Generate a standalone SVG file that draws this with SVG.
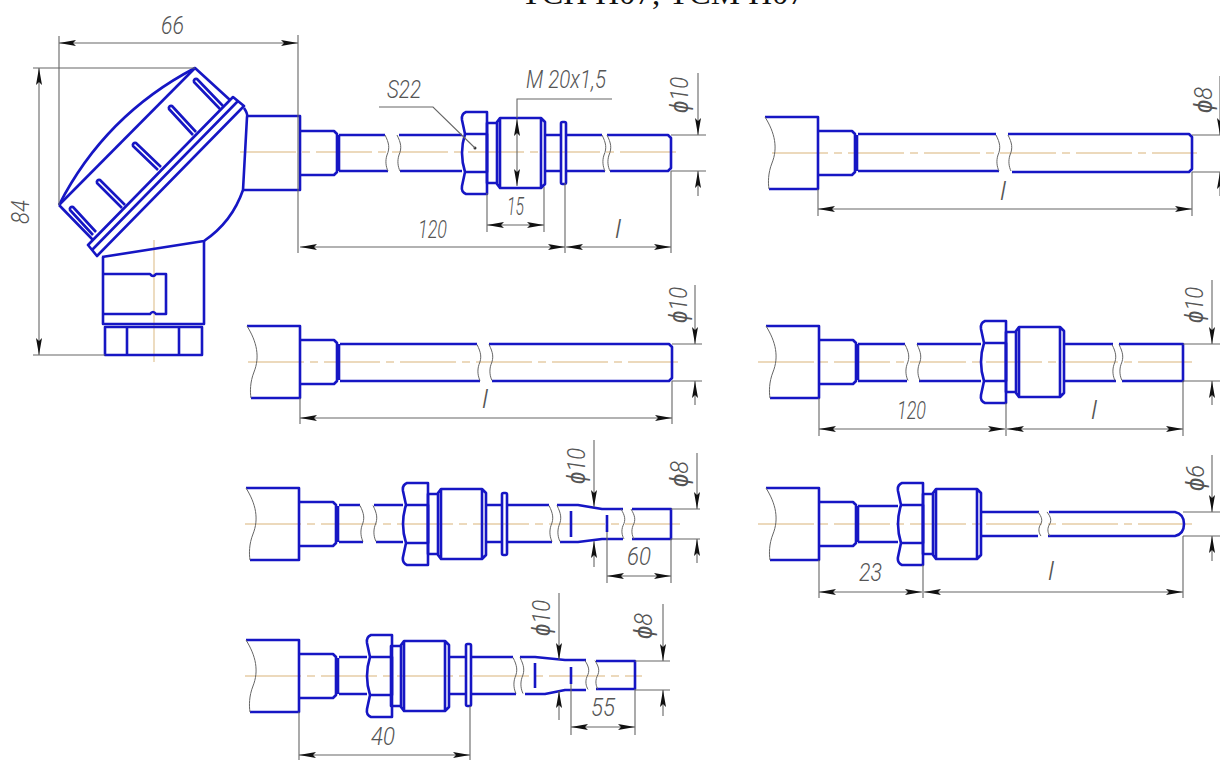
<svg xmlns="http://www.w3.org/2000/svg" width="1220" height="760" viewBox="0 0 1220 760">
<style>
.b{fill:none;stroke:#1616c4;stroke-width:2.6;stroke-linejoin:round}
.t{fill:none;stroke:#666;stroke-width:1;vector-effect:non-scaling-stroke}
.c{fill:none;stroke:#e6cda6;stroke-width:1.4;stroke-dasharray:56 6 8 6}
.d{fill:none;stroke:#666;stroke-width:1.1}
.a{marker-start:url(#ar);marker-end:url(#ar)}
.e{marker-end:url(#ar)}
.l{font-family:Roboto,"Liberation Sans",sans-serif;font-style:italic;font-weight:300;font-size:26px;fill:#555}
.title{font-family:"Liberation Serif",serif;font-size:32px;fill:#111}
</style>
<defs>
<marker id="ar" markerUnits="userSpaceOnUse" markerWidth="18" markerHeight="8" refX="17" refY="4" orient="auto-start-reverse"><path d="M17,4 L0,1 L3,4 L0,7 Z" fill="#111"/></marker>
<path id="neck" class="b" d="M0,-22 H34 L37,-19 V19 L34,22 H0 M39,-18 V18"/>
<g id="block">
<path class="b" d="M-53,-36 H0 V36 H-49"/>
<path class="t" d="M-53,-36 C-43,-20 -40,-5 -46,10 C-50,20 -50,30 -49,36"/>
<use href="#neck"/>
</g>
<g id="hex">
<path class="b" d="M4,-41 H25 V41 H4 Q-1,39 0,33 L3,19 Q-3,0 3,-19 L0,-33 Q-1,-39 4,-41 Z"/>
<path class="b" d="M3,-19 L25,-19 L25,19 L3,19"/>
</g>
<g id="fit">
<path class="b" d="M0,-30 H10 V30 H0 Z M13,-35 H54 L58,-31 V31 L54,35 H13 L10,31 V-31 Z M13,-35 V35 M54,-35 V35"/>
</g>
<rect id="fl" class="b" x="0" y="-31" width="5" height="62" rx="1.5"/>
<path id="brk" class="t" d="M0,-18 C4,-10 5,-5 2,2 C0,8 1,14 3,18"/>
</defs>
<rect width="1220" height="760" fill="#fff"/>
<text class="title" x="521" y="4" textLength="284" lengthAdjust="spacingAndGlyphs">ТСП Н07, ТСМ Н07</text>

<g id="centerlines">
<path class="c" d="M240,152 H678 M248,362 H678 M772,153 H1197 M758,362 H1192 M758,524 H1192 M245,524 H680 M245,676 H642"/>
<path class="c" d="M154,240 V362" style="stroke-dasharray:none"/>
</g>

<g id="head">
<path class="b" d="M59,205 Q105,115 195,68 L230,100 M59,205 L93,240"/>
<path class="b" d="M59,205 L195,68"/>
<path class="b" d="M233,97 L244,106 L97,256 L88,245 Z M238,101 L92,250"/>
<path class="b" d="M223,106 L197,79 A2.3,2.3 0 0 0 194,82 L220,109"/>
<path class="b" d="M196,132 L172,106 A2.3,2.3 0 0 0 169,109 L193,135"/>
<path class="b" d="M161,167 L136,143 A2.3,2.3 0 0 0 133,146 L158,170"/>
<path class="b" d="M125,205 L100,180 A2.3,2.3 0 0 0 97,183 L122,208"/>
<path class="b" d="M96,232 L73,207 A2.3,2.3 0 0 0 70,210 L93,235"/>
<path class="b" d="M244,108 Q248,114 247,117 L243,190 Q232,222 204,241 L102,257"/>
<path class="b" d="M247,116 H300 V190 H243"/>
<path class="b" d="M103,257 V324 H204 V241"/>
<path class="b" d="M105,327 H202 V355 H105 Z M127,327 V355 M179,327 V355"/>
<path class="b" d="M104,274 H150 Q153,278 156,274 H166 V314 H156 Q153,310 150,314 H104"/>
</g>

<g id="probe-a">
<use href="#neck" transform="translate(300,153)"/>
<path class="b" d="M339,135 H385 M339,171 H388 M399,135 H462 M400,171 H462 M545,135 H561 M545,171 H561 M566,135 H602 M566,171 H605 M607,135 H668 L671,138 V168 L668,171 H610"/>
<use href="#brk" transform="translate(385,153)"/><use href="#brk" transform="translate(397,153)"/>
<use href="#brk" transform="translate(602,153)"/><use href="#brk" transform="translate(607,153)"/>
<use href="#hex" transform="translate(462,153)"/>
<use href="#fit" transform="translate(487,153)"/>
<use href="#fl" transform="translate(561,153)"/>
<circle cx="475" cy="148" r="1.5" fill="#333"/>
</g>

<g id="probe-b">
<use href="#block" transform="translate(300,362)"/>
<path class="b" d="M340,344 H477 M340,381 H480 M489,344 H669 L672,347 V378 L669,381 H492"/>
<use href="#brk" transform="translate(477,362.500)"/><use href="#brk" transform="translate(489,362.500)"/>
</g>

<g id="probe-c">
<use href="#block" transform="translate(818,153)"/>
<path class="b" d="M858,134 H996 M858,171 H999 M1008,134 H1189 L1192,137 V169 L1189,172 H1012"/>
<use href="#brk" transform="translate(996,153)"/><use href="#brk" transform="translate(1008,153)"/>
</g>

<g id="probe-d">
<use href="#block" transform="translate(819,362)"/>
<path class="b" d="M858,344 H905 M858,381 H907 M917,344 H981 M919,381 H981 M1063,344 H1113 M1063,381 H1116 M1119,344 H1183 V381 H1122"/>
<use href="#brk" transform="translate(905,362.500)"/><use href="#brk" transform="translate(917,362.500)"/>
<use href="#brk" transform="translate(1112,362.500)"/><use href="#brk" transform="translate(1119,362.500)"/>
<use href="#hex" transform="translate(981,362)"/>
<use href="#fit" transform="translate(1006,362)"/>
</g>

<g id="probe-e">
<use href="#block" transform="translate(819,524)"/>
<path class="b" d="M858,506 H898 M858,542 H898 M981,512 H1039 M981,536 H1038 M1049,512 H1175 Q1184,514 1184,524 Q1184,534 1175,536 H1048"/>
<use href="#brk" transform="translate(1038,524) scale(1,0.67)"/><use href="#brk" transform="translate(1047,524) scale(1,0.67)"/>
<use href="#hex" transform="translate(898,524)"/>
<use href="#fit" transform="translate(923,524)"/>
</g>

<g id="probe-f">
<use href="#block" transform="translate(299,524)"/>
<path class="b" d="M339,505 H360 M339,542 H363 M374,505 H403 M376,542 H403 M485,505 H502 M485,542 H502 M507,505 H549 M507,542 H552 M557,505 H578 L602,509 H623 M560,542 H578 L602,539 H623 M632,509 H671 V539 H632 M571,511 V537 M607,515 V532"/>
<use href="#brk" transform="translate(360,523.500)"/><use href="#brk" transform="translate(373,523.500)"/>
<use href="#brk" transform="translate(549,523.500)"/><use href="#brk" transform="translate(557,523.500)"/>
<use href="#brk" transform="translate(621,524) scale(1,0.83)"/><use href="#brk" transform="translate(631,524) scale(1,0.83)"/>
<use href="#hex" transform="translate(403,524)"/>
<use href="#fit" transform="translate(428,524)"/>
<use href="#fl" transform="translate(502,524)"/>
</g>

<g id="probe-g">
<use href="#block" transform="translate(299,676)"/>
<path class="b" d="M339,657 H367 M339,694 H367 M448,657 H466 M448,694 H466 M471,657 H513 M471,694 H516 M520,657 H535 L565,660 H586 M525,694 H545 L565,690 H586 M596,661 H635 V689 H596 M535,663 V688 M571,667 V684"/>
<use href="#brk" transform="translate(513,675.500)"/><use href="#brk" transform="translate(520,675.500)"/>
<use href="#brk" transform="translate(585,675) scale(1,0.8)"/><use href="#brk" transform="translate(595,675) scale(1,0.8)"/>
<use href="#hex" transform="translate(367,676)"/>
<use href="#fit" transform="translate(391,676)"/>
<use href="#fl" transform="translate(466,675)"/>
</g>

<g id="connectors">
<path class="d" d="M59,36 V205 M298,35 V253 M33,68 H195 M33,355 H105"/>
<path class="d a" d="M59,43 H298"/>
<path class="d a" d="M39,68 V355"/>
<path class="d" d="M565,183 V253 M671,171 V253 M487,193 V232 M544,187 V232 M671,135 H706 M671,171 H706"/>
<path class="d a" d="M300,247 H565"/>
<path class="d a" d="M566,247 H671"/>
<path class="d a" d="M487,225 H544"/>
<path class="d" d="M612,99 H517 V118"/>
<path class="d a" d="M517,119 V186"/>
<path class="d" d="M379,107 H433 L475,148"/>
<path class="d e" d="M698,73 V135"/>
<path class="d e" d="M698,196 V171"/>
<path class="d" d="M300,398 V424 M672,381 V424 M672,344 H702 M672,381 H702"/>
<path class="d a" d="M300,418 H672"/>
<path class="d e" d="M695,285 V344"/>
<path class="d e" d="M695,405 V381"/>
<path class="d" d="M818,189 V216 M1192,172 V216 M1192,135 H1220 M1192,172 H1220"/>
<path class="d a" d="M818,209 H1192"/>
<path class="d e" d="M1220,76 V135"/>
<path class="d e" d="M1220,196 V172"/>
<path class="d" d="M819,398 V436 M1006,403 V436 M1183,381 V436 M1183,344 H1220 M1183,381 H1220"/>
<path class="d a" d="M819,429 H1005"/>
<path class="d a" d="M1007,429 H1183"/>
<path class="d e" d="M1212,280 V344"/>
<path class="d e" d="M1212,405 V381"/>
<path class="d" d="M819,560 V598 M923,565 V598 M1183,536 V598 M1183,512 H1220 M1183,536 H1220"/>
<path class="d a" d="M819,592 H922"/>
<path class="d a" d="M924,592 H1183"/>
<path class="d e" d="M1212,455 V512"/>
<path class="d e" d="M1212,561 V536"/>
<path class="d" d="M607,532 V583 M671,539 V583 M671,509 H700 M671,539 H700"/>
<path class="d a" d="M607,576 H671"/>
<path class="d e" d="M594,440 V507"/>
<path class="d e" d="M594,567 V541"/>
<path class="d e" d="M697,453 V509"/>
<path class="d e" d="M697,563 V539"/>
<path class="d" d="M299,712 V760 M470,706 V760 M571,684 V735 M635,689 V735 M635,661 H670 M635,690 H670"/>
<path class="d a" d="M299,755 H470"/>
<path class="d a" d="M571,727 H635"/>
<path class="d e" d="M559,593 V660"/>
<path class="d e" d="M559,720 V691"/>
<path class="d e" d="M663,604 V661"/>
<path class="d e" d="M663,716 V690"/>
</g>

<g id="labels">
<text class="l" x="161" y="34" textLength="23" lengthAdjust="spacingAndGlyphs">66</text>
<text class="l" transform="translate(29,224) rotate(-90)" textLength="24" lengthAdjust="spacingAndGlyphs">84</text>
<text class="l" x="387" y="98" textLength="34" lengthAdjust="spacingAndGlyphs">S22</text>
<text class="l" x="526" y="88" textLength="80" lengthAdjust="spacingAndGlyphs">M 20x1,5</text>
<text class="l" x="507" y="215" textLength="17" lengthAdjust="spacingAndGlyphs">15</text>
<text class="l" x="418" y="238" textLength="29" lengthAdjust="spacingAndGlyphs">120</text>
<text class="l" x="615" y="238" textLength="6" lengthAdjust="spacingAndGlyphs">l</text>
<text class="l" transform="translate(688,113) rotate(-90)" textLength="36" lengthAdjust="spacingAndGlyphs">ϕ10</text>
<text class="l" x="482" y="408" textLength="6" lengthAdjust="spacingAndGlyphs">l</text>
<text class="l" transform="translate(687,323) rotate(-90)" textLength="36" lengthAdjust="spacingAndGlyphs">ϕ10</text>
<text class="l" x="1000" y="200" textLength="6" lengthAdjust="spacingAndGlyphs">l</text>
<text class="l" transform="translate(1212,113) rotate(-90)" textLength="26" lengthAdjust="spacingAndGlyphs">ϕ8</text>
<text class="l" x="897" y="419" textLength="29" lengthAdjust="spacingAndGlyphs">120</text>
<text class="l" x="1091" y="419" textLength="6" lengthAdjust="spacingAndGlyphs">l</text>
<text class="l" transform="translate(1203,323) rotate(-90)" textLength="36" lengthAdjust="spacingAndGlyphs">ϕ10</text>
<text class="l" x="859" y="581" textLength="23" lengthAdjust="spacingAndGlyphs">23</text>
<text class="l" x="1048" y="580" textLength="6" lengthAdjust="spacingAndGlyphs">l</text>
<text class="l" transform="translate(1204,491) rotate(-90)" textLength="26" lengthAdjust="spacingAndGlyphs">ϕ6</text>
<text class="l" transform="translate(585,484) rotate(-90)" textLength="36" lengthAdjust="spacingAndGlyphs">ϕ10</text>
<text class="l" transform="translate(688,487) rotate(-90)" textLength="26" lengthAdjust="spacingAndGlyphs">ϕ8</text>
<text class="l" x="627" y="565" textLength="24" lengthAdjust="spacingAndGlyphs">60</text>
<text class="l" transform="translate(550,636) rotate(-90)" textLength="36" lengthAdjust="spacingAndGlyphs">ϕ10</text>
<text class="l" transform="translate(652,639) rotate(-90)" textLength="26" lengthAdjust="spacingAndGlyphs">ϕ8</text>
<text class="l" x="591" y="716" textLength="24" lengthAdjust="spacingAndGlyphs">55</text>
<text class="l" x="371" y="745" textLength="24" lengthAdjust="spacingAndGlyphs">40</text>
</g>
</svg>
